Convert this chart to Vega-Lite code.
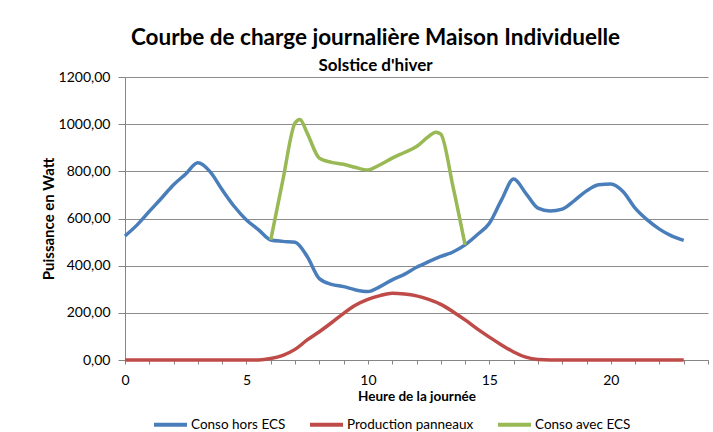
{
  "$schema": "https://vega.github.io/schema/vega-lite/v6.json",
  "width": 583,
  "height": 283,
  "autosize": "none",
  "padding": {"left": 125, "top": 77, "right": 5, "bottom": 72},
  "background": "white",
  "config": {
    "locale": {"number": {"decimal": ",", "thousands": " ", "grouping": [3], "currency": ["", " €"]}},
    "view": {"stroke": null},
    "font": "Lato"
  },
  "title": {
    "text": "Courbe de charge journalière Maison Individuelle",
    "subtitle": "Solstice d'hiver",
    "fontSize": 22.5,
    "subtitleFontSize": 17,
    "fontWeight": "bold",
    "subtitleFontWeight": "bold",
    "color": "black",
    "subtitleColor": "black",
    "anchor": "middle",
    "dx": -41,
    "offset": -4,
    "subtitlePadding": 9,
    "font": "Lato",
    "subtitleFont": "Lato"
  },
  "data": {
    "values": [
      {"s": "Conso hors ECS", "h": 0, "v": 526},
      {"s": "Conso hors ECS", "h": 0.5, "v": 573},
      {"s": "Conso hors ECS", "h": 1, "v": 630},
      {"s": "Conso hors ECS", "h": 1.5, "v": 686},
      {"s": "Conso hors ECS", "h": 2, "v": 743},
      {"s": "Conso hors ECS", "h": 2.5, "v": 789},
      {"s": "Conso hors ECS", "h": 3, "v": 836},
      {"s": "Conso hors ECS", "h": 3.5, "v": 799},
      {"s": "Conso hors ECS", "h": 4, "v": 722},
      {"s": "Conso hors ECS", "h": 4.5, "v": 651},
      {"s": "Conso hors ECS", "h": 5, "v": 594},
      {"s": "Conso hors ECS", "h": 5.5, "v": 552},
      {"s": "Conso hors ECS", "h": 6, "v": 509},
      {"s": "Conso hors ECS", "h": 6.5, "v": 503},
      {"s": "Conso hors ECS", "h": 7, "v": 499},
      {"s": "Conso hors ECS", "h": 7.5, "v": 439},
      {"s": "Conso hors ECS", "h": 8, "v": 345},
      {"s": "Conso hors ECS", "h": 8.5, "v": 321},
      {"s": "Conso hors ECS", "h": 9, "v": 311},
      {"s": "Conso hors ECS", "h": 9.5, "v": 297},
      {"s": "Conso hors ECS", "h": 10, "v": 290},
      {"s": "Conso hors ECS", "h": 10.5, "v": 311},
      {"s": "Conso hors ECS", "h": 11, "v": 340},
      {"s": "Conso hors ECS", "h": 11.5, "v": 363},
      {"s": "Conso hors ECS", "h": 12, "v": 393},
      {"s": "Conso hors ECS", "h": 12.5, "v": 417},
      {"s": "Conso hors ECS", "h": 13, "v": 439},
      {"s": "Conso hors ECS", "h": 13.5, "v": 458},
      {"s": "Conso hors ECS", "h": 14, "v": 488},
      {"s": "Conso hors ECS", "h": 14.5, "v": 531},
      {"s": "Conso hors ECS", "h": 15, "v": 580},
      {"s": "Conso hors ECS", "h": 15.5, "v": 679},
      {"s": "Conso hors ECS", "h": 16, "v": 767},
      {"s": "Conso hors ECS", "h": 16.5, "v": 707},
      {"s": "Conso hors ECS", "h": 17, "v": 644},
      {"s": "Conso hors ECS", "h": 17.5, "v": 632},
      {"s": "Conso hors ECS", "h": 18, "v": 640},
      {"s": "Conso hors ECS", "h": 18.5, "v": 676},
      {"s": "Conso hors ECS", "h": 19, "v": 717},
      {"s": "Conso hors ECS", "h": 19.5, "v": 743},
      {"s": "Conso hors ECS", "h": 20, "v": 746},
      {"s": "Conso hors ECS", "h": 20.5, "v": 714},
      {"s": "Conso hors ECS", "h": 21, "v": 644},
      {"s": "Conso hors ECS", "h": 21.5, "v": 594},
      {"s": "Conso hors ECS", "h": 22, "v": 555},
      {"s": "Conso hors ECS", "h": 22.5, "v": 526},
      {"s": "Conso hors ECS", "h": 23, "v": 507},
      {"s": "Production panneaux", "h": 0, "v": 0},
      {"s": "Production panneaux", "h": 1, "v": 0},
      {"s": "Production panneaux", "h": 2, "v": 0},
      {"s": "Production panneaux", "h": 3, "v": 0},
      {"s": "Production panneaux", "h": 4, "v": 0},
      {"s": "Production panneaux", "h": 5, "v": 0},
      {"s": "Production panneaux", "h": 5.5, "v": 0},
      {"s": "Production panneaux", "h": 6, "v": 6},
      {"s": "Production panneaux", "h": 6.5, "v": 20},
      {"s": "Production panneaux", "h": 7, "v": 45},
      {"s": "Production panneaux", "h": 7.5, "v": 85},
      {"s": "Production panneaux", "h": 8, "v": 120},
      {"s": "Production panneaux", "h": 8.5, "v": 158},
      {"s": "Production panneaux", "h": 9, "v": 198},
      {"s": "Production panneaux", "h": 9.5, "v": 233},
      {"s": "Production panneaux", "h": 10, "v": 257},
      {"s": "Production panneaux", "h": 10.5, "v": 273},
      {"s": "Production panneaux", "h": 11, "v": 283},
      {"s": "Production panneaux", "h": 11.5, "v": 280},
      {"s": "Production panneaux", "h": 12, "v": 272},
      {"s": "Production panneaux", "h": 12.5, "v": 257},
      {"s": "Production panneaux", "h": 13, "v": 236},
      {"s": "Production panneaux", "h": 13.5, "v": 205},
      {"s": "Production panneaux", "h": 14, "v": 170},
      {"s": "Production panneaux", "h": 14.5, "v": 132},
      {"s": "Production panneaux", "h": 15, "v": 97},
      {"s": "Production panneaux", "h": 15.5, "v": 64},
      {"s": "Production panneaux", "h": 16, "v": 34},
      {"s": "Production panneaux", "h": 16.5, "v": 12},
      {"s": "Production panneaux", "h": 17, "v": 2},
      {"s": "Production panneaux", "h": 17.5, "v": 0},
      {"s": "Production panneaux", "h": 18, "v": 0},
      {"s": "Production panneaux", "h": 19, "v": 0},
      {"s": "Production panneaux", "h": 20, "v": 0},
      {"s": "Production panneaux", "h": 21, "v": 0},
      {"s": "Production panneaux", "h": 22, "v": 0},
      {"s": "Production panneaux", "h": 23, "v": 0},
      {"s": "Conso avec ECS", "h": 6, "v": 509},
      {"s": "Conso avec ECS", "h": 6.5, "v": 764},
      {"s": "Conso avec ECS", "h": 7, "v": 1005},
      {"s": "Conso avec ECS", "h": 7.2, "v": 1020},
      {"s": "Conso avec ECS", "h": 7.5, "v": 962},
      {"s": "Conso avec ECS", "h": 8, "v": 856},
      {"s": "Conso avec ECS", "h": 8.5, "v": 838},
      {"s": "Conso avec ECS", "h": 9, "v": 830},
      {"s": "Conso avec ECS", "h": 9.5, "v": 816},
      {"s": "Conso avec ECS", "h": 10, "v": 806},
      {"s": "Conso avec ECS", "h": 10.5, "v": 828},
      {"s": "Conso avec ECS", "h": 11, "v": 856},
      {"s": "Conso avec ECS", "h": 11.5, "v": 880},
      {"s": "Conso avec ECS", "h": 12, "v": 905},
      {"s": "Conso avec ECS", "h": 12.5, "v": 948},
      {"s": "Conso avec ECS", "h": 12.8, "v": 966},
      {"s": "Conso avec ECS", "h": 13, "v": 958},
      {"s": "Conso avec ECS", "h": 13.5, "v": 736},
      {"s": "Conso avec ECS", "h": 14, "v": 488}
    ]
  },
  "mark": {"type": "line", "interpolate": "monotone", "strokeWidth": 3.5},
  "encoding": {
    "x": {
      "field": "h",
      "type": "quantitative",
      "scale": {"domain": [0, 24], "nice": false, "zero": false},
      "axis": {
        "values": [0,1,2,3,4,5,6,7,8,9,10,11,12,13,14,15,16,17,18,19,20,21,22,23,24],
        "labelExpr": "datum.value % 5 === 0 && datum.value < 24 ? datum.label : ''",
        "grid": false,
        "tickSize": 4,
        "tickColor": "#868686",
        "domainColor": "#868686",
        "labelFontSize": 14,
        "labelColor": "black",
        "labelPadding": 9,
        "labelFlush": false,
        "title": "Heure de la journée",
        "titleFontSize": 13.5,
        "titleFontWeight": "bold",
        "titleColor": "black",
        "titlePadding": 2
      }
    },
    "y": {
      "field": "v",
      "type": "quantitative",
      "scale": {"domain": [0, 1200], "nice": false},
      "axis": {
        "values": [0, 200, 400, 600, 800, 1000, 1200],
        "format": ".2f",
        "title": "Puissance en Watt",
        "titleFontSize": 15,
        "titleFontWeight": "bold",
        "titleColor": "black",
        "titlePadding": 2,
        "labelFontSize": 14,
        "labelColor": "black",
        "labelPadding": 8,
        "tickSize": 7,
        "tickColor": "#868686",
        "domainColor": "#868686",
        "gridColor": "#8c8c8c",
        "gridWidth": 1
      }
    },
    "color": {
      "field": "s",
      "type": "nominal",
      "scale": {
        "domain": ["Conso hors ECS", "Production panneaux", "Conso avec ECS"],
        "range": ["#4A7EBB", "#BE4B48", "#98B954"]
      },
      "legend": {
        "orient": "none",
        "legendX": 27,
        "legendY": 329,
        "direction": "horizontal",
        "title": null,
        "symbolType": "stroke",
        "symbolStrokeWidth": 4,
        "symbolSize": 1089,
        "labelFontSize": 13.5,
        "labelColor": "black",
        "labelOffset": 2,
        "columnPadding": 16,
        "padding": 0
      }
    }
  }
}
